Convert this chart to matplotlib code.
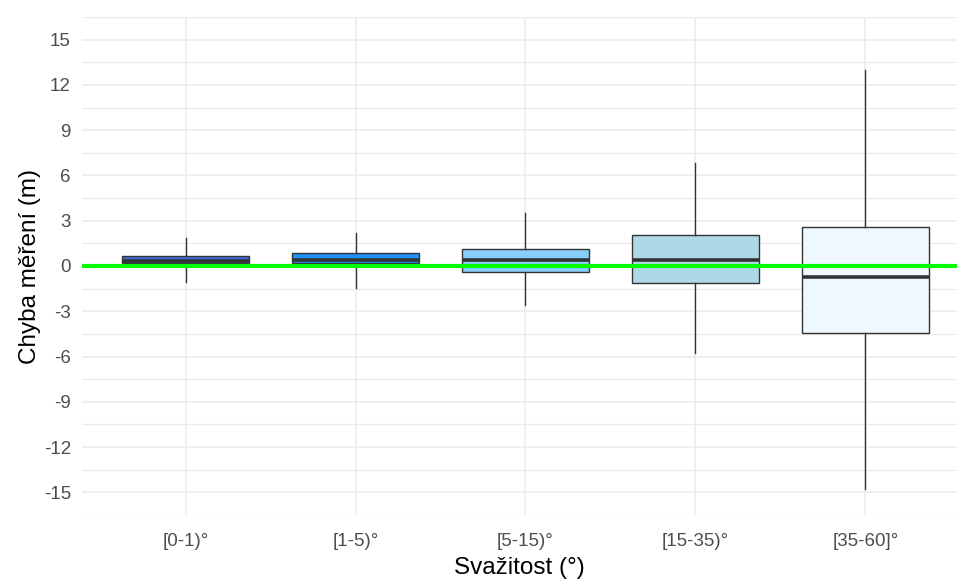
import numpy as np
import matplotlib.pyplot as plt
from matplotlib.ticker import FixedLocator

plt.rcParams['font.family'] = ['Liberation Sans', 'DejaVu Sans']
plt.rcParams['axes.unicode_minus'] = False

# slope classes and box statistics of the measurement error (m)
classes = ['[0-1)°', '[1-5)°', '[5-15)°', '[15-35)°', '[35-60]°']
whis_lo = [-1.08, -1.48, -2.58, -5.78, -14.77]
q1 = [0.18, 0.18, -0.38, -1.15, -4.44]
median = [0.30, 0.40, 0.38, 0.40, -0.75]
q3 = [0.68, 0.88, 1.13, 2.07, 2.56]
whis_hi = [1.83, 2.20, 3.53, 6.84, 12.98]
fills = ['royalblue', 'dodgerblue', 'lightskyblue', 'lightblue', 'aliceblue']

stats = []
for i in range(len(classes)):
    stats.append(dict(label=classes[i], whislo=whis_lo[i], q1=q1[i], med=median[i],
                      q3=q3[i], whishi=whis_hi[i], fliers=[]))

fig = plt.figure(figsize=(9.57, 5.79), dpi=100)
ax = fig.add_axes([82/957, 64/579, 1 - 82/957, 498/579])

pos = np.arange(1, len(classes) + 1)
bp = ax.bxp(stats, positions=pos, widths=0.75, patch_artist=True, showcaps=False,
            boxprops=dict(edgecolor='#333333', linewidth=1.0),
            whiskerprops=dict(color='#333333', linewidth=1.0),
            medianprops=dict(color='#333333', linewidth=2.6, solid_capstyle='butt'),
            zorder=3)
for patch, c in zip(bp['boxes'], fills):
    patch.set_facecolor(c)

ax.axhline(0, color='#00ff00', linewidth=3.0, zorder=5)

ax.set_xlim(0.39, 5.54)
ax.set_ylim(-16.5, 16.5)
ax.set_yticks(np.arange(-15, 16, 3))
ax.yaxis.set_minor_locator(FixedLocator(np.arange(-16.5, 17, 3)))
ax.set_xticks(pos)
ax.set_xticklabels(classes)

ax.grid(True, which='major', color='#ebebeb', linewidth=1.1, zorder=0)
ax.grid(True, which='minor', axis='y', color='#ebebeb', linewidth=0.9, zorder=0)
ax.set_axisbelow(True)
for s in ax.spines.values():
    s.set_visible(False)
ax.tick_params(which='both', length=0, labelsize=13.5, labelcolor='#4d4d4d')
ax.tick_params(axis='x', pad=13)
ax.tick_params(axis='y', pad=8)

ax.set_xlabel('Svažitost (°)', fontsize=17.5, labelpad=5)
ax.set_ylabel('Chyba měření (m)', fontsize=17.5, labelpad=2)

fig.savefig('out.png', dpi=100)
